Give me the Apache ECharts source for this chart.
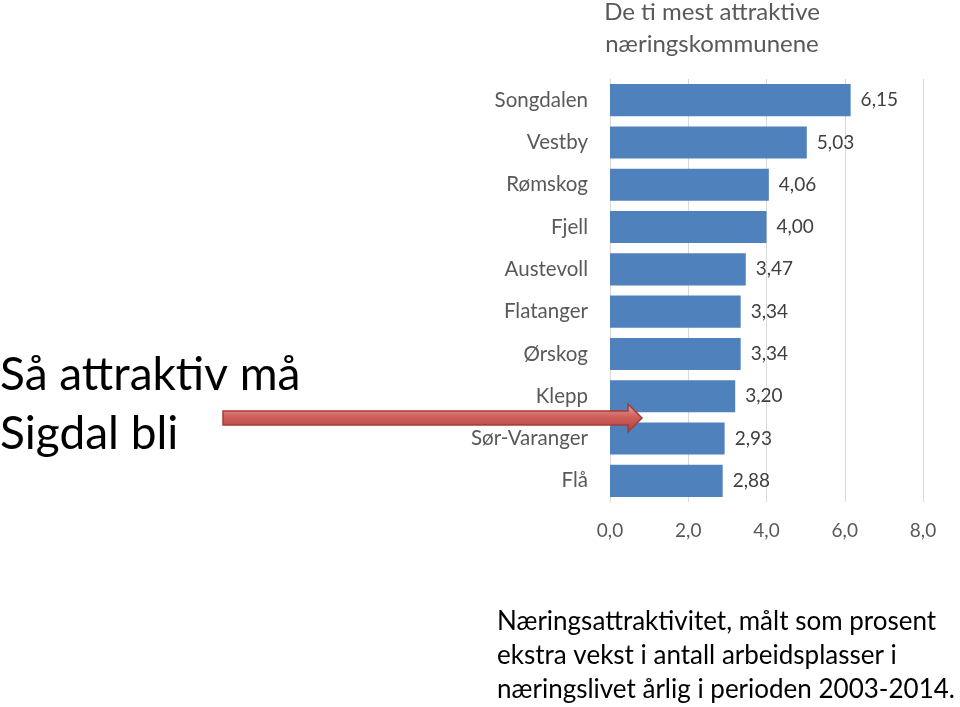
<!DOCTYPE html>
<html>
<head>
<meta charset="utf-8">
<script src="https://cdn.jsdelivr.net/npm/echarts@6/dist/echarts.min.js"></script>
<style>
  html, body { margin: 0; padding: 0; background: #fff; }
  #chart { width: 960px; height: 707px; }
</style>
</head>
<body>
<div id="chart"></div>
<script>
const kommuner = ['Songdalen', 'Vestby', 'Rømskog', 'Fjell', 'Austevoll', 'Flatanger', 'Ørskog', 'Klepp', 'Sør-Varanger', 'Flå']
const verdier = [6.15, 5.03, 4.06, 4.00, 3.47, 3.34, 3.34, 3.20, 2.93, 2.88]
const tittel = 'De ti mest attraktive\nnæringskommunene'
const overskrift = 'Så attraktiv må\nSigdal bli'
const fotnote = 'Næringsattraktivitet, målt som prosent\nekstra vekst i antall arbeidsplasser i\nnæringslivet årlig i perioden 2003-2014.'

const FONT = 'Lato, "Open Sans", sans-serif'
const komma = (v, d) => v.toFixed(d).replace('.', ',')

const chart = echarts.init(document.getElementById('chart'))

chart.setOption({
  animation: false,
  textStyle: { fontFamily: FONT },

  title: {
    text: tittel,
    left: 707,
    top: -9,
    textAlign: 'center',
    textStyle: {
      fontFamily: FONT,
      fontSize: 24,
      fontWeight: 'normal',
      color: '#595959',
      lineHeight: 32,
      align: 'center'
    }
  },

  grid: {
    left: 610,
    right: 37,
    top: 79,
    bottom: 205
  },

  xAxis: {
    type: 'value',
    min: 0,
    max: 8,
    interval: 2,
    axisLine: { show: false },
    axisTick: { show: false },
    splitLine: { lineStyle: { color: '#d9d9d9' } },
    axisLabel: {
      margin: 19,
      fontSize: 19,
      color: '#595959',
      formatter: v => komma(v, 1)
    }
  },

  yAxis: {
    type: 'category',
    inverse: true,
    data: kommuner,
    axisLine: { lineStyle: { color: '#d9d9d9' } },
    axisTick: { show: false },
    axisLabel: {
      margin: 22,
      fontSize: 20.5,
      color: '#595959'
    }
  },

  series: [
    {
      type: 'bar',
      data: verdier,
      barWidth: '76%',
      itemStyle: { color: '#4f81bd' },
      label: {
        show: true,
        position: 'right',
        distance: 10,
        fontSize: 19,
        color: '#404040',
        formatter: p => komma(p.value, 2)
      }
    }
  ],

  graphic: [
    {
      type: 'text',
      left: 0,
      top: 346,
      style: {
        text: overskrift,
        font: '46px ' + FONT,
        fill: '#000',
        lineHeight: 59
      }
    },
    {
      type: 'text',
      left: 497,
      top: 605,
      style: {
        text: fotnote,
        font: '26px ' + FONT,
        fill: '#000',
        lineHeight: 34
      }
    },
    // rød pil mot Klepp / Sør-Varanger
    {
      type: 'polygon',
      shape: {
        points: [[223, 411], [628, 411], [628, 404], [642, 418], [628, 432], [628, 425], [223, 425]]
      },
      style: {
        fill: {
          type: 'linear', x: 0, y: 0, x2: 0, y2: 1,
          colorStops: [
            { offset: 0, color: '#e9a9a7' },
            { offset: 0.45, color: '#d0605c' },
            { offset: 1, color: '#b1403c' }
          ]
        },
        stroke: '#a43c39',
        lineWidth: 1.5
      },
      z: 100
    }
  ]
})
</script>
</body>
</html>
